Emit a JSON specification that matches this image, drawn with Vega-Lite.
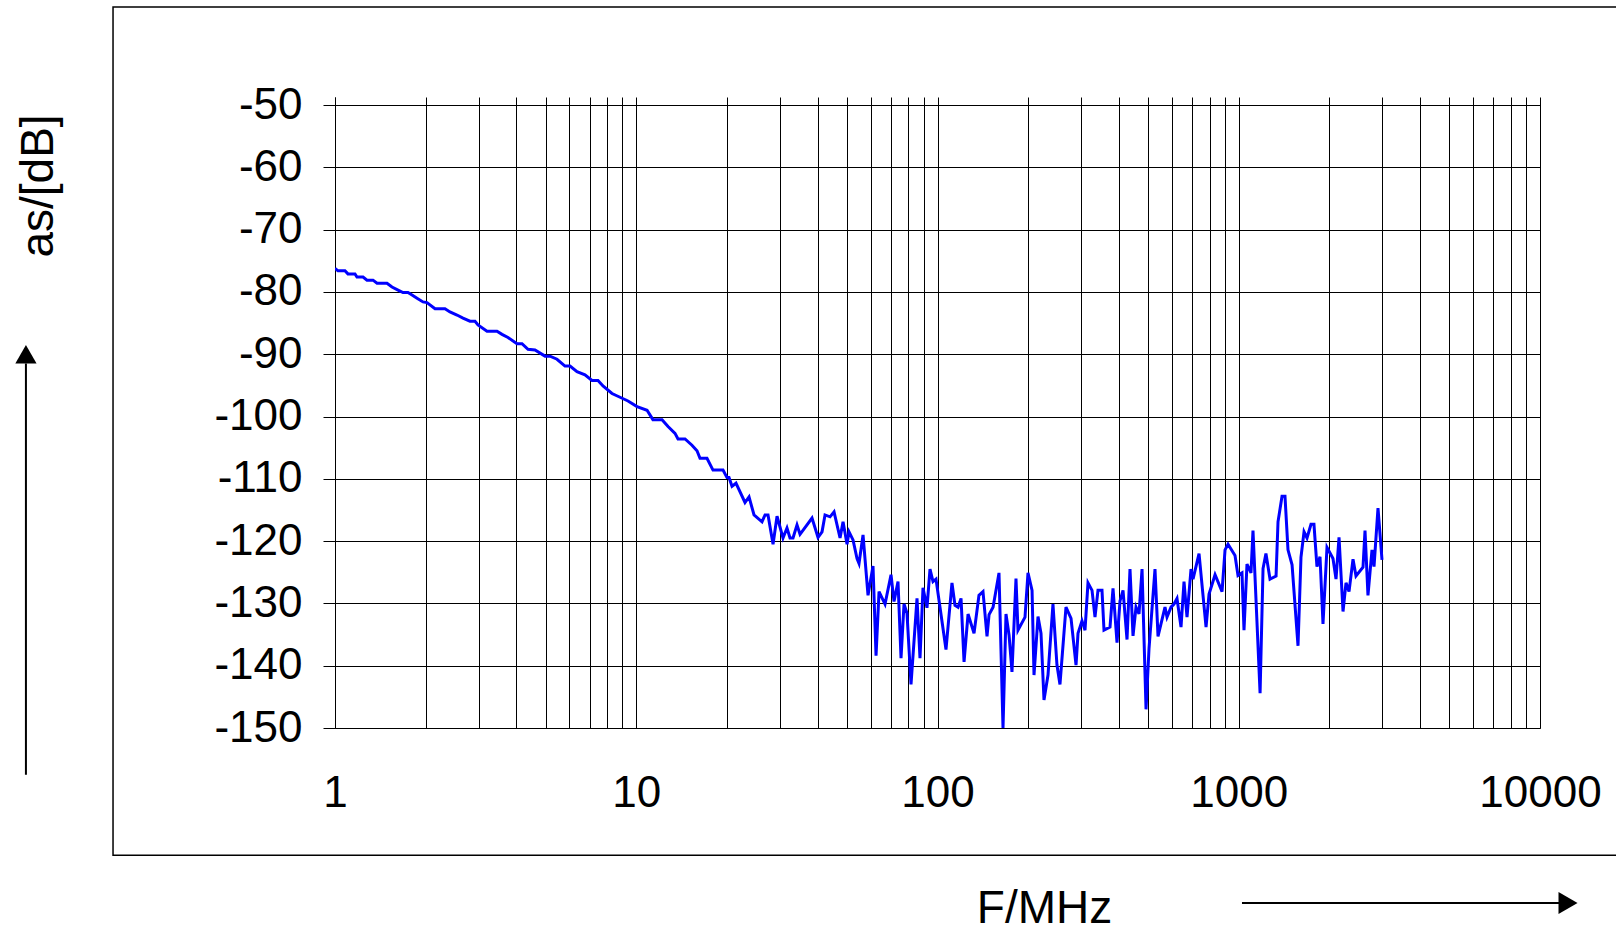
{
  "$schema": "https://vega.github.io/schema/vega-lite/v6.json",
  "width": 1205,
  "height": 631,
  "autosize": "none",
  "padding": {"left": 335, "top": 97, "right": 76, "bottom": 205},
  "background": "white",
  "config": {
    "view": {"stroke": null},
    "font": "Liberation Sans"
  },
  "layer": [
    {
      "data": {"name": "spectrum", "values": [
        {"F": 1.000, "dB": -76.2}, {"F": 1.023, "dB": -76.6}, {"F": 1.079, "dB": -76.6}, {"F": 1.104, "dB": -77.1},
        {"F": 1.165, "dB": -77.1}, {"F": 1.183, "dB": -77.6}, {"F": 1.239, "dB": -77.6}, {"F": 1.277, "dB": -78.1},
        {"F": 1.337, "dB": -78.1}, {"F": 1.379, "dB": -78.6}, {"F": 1.488, "dB": -78.6}, {"F": 1.546, "dB": -79.2},
        {"F": 1.619, "dB": -79.7}, {"F": 1.681, "dB": -80.1}, {"F": 1.747, "dB": -80.1}, {"F": 1.802, "dB": -80.5},
        {"F": 1.872, "dB": -81.0}, {"F": 1.959, "dB": -81.6}, {"F": 2.020, "dB": -81.7}, {"F": 2.148, "dB": -82.7},
        {"F": 2.318, "dB": -82.7}, {"F": 2.408, "dB": -83.2}, {"F": 2.541, "dB": -83.7}, {"F": 2.660, "dB": -84.2},
        {"F": 2.806, "dB": -84.7}, {"F": 2.916, "dB": -84.7}, {"F": 2.983, "dB": -85.3}, {"F": 3.196, "dB": -86.3},
        {"F": 3.450, "dB": -86.3}, {"F": 3.584, "dB": -86.8}, {"F": 3.752, "dB": -87.3}, {"F": 4.019, "dB": -88.3},
        {"F": 4.176, "dB": -88.3}, {"F": 4.372, "dB": -89.2}, {"F": 4.612, "dB": -89.3}, {"F": 4.980, "dB": -90.3},
        {"F": 5.173, "dB": -90.3}, {"F": 5.457, "dB": -90.8}, {"F": 5.800, "dB": -91.9}, {"F": 6.027, "dB": -91.9},
        {"F": 6.358, "dB": -92.8}, {"F": 6.758, "dB": -93.3}, {"F": 7.130, "dB": -94.2}, {"F": 7.464, "dB": -94.2},
        {"F": 7.755, "dB": -95.1}, {"F": 8.309, "dB": -96.3}, {"F": 8.835, "dB": -96.9}, {"F": 9.389, "dB": -97.5},
        {"F": 10.06, "dB": -98.4}, {"F": 10.86, "dB": -99.0}, {"F": 11.36, "dB": -100.5}, {"F": 12.18, "dB": -100.5},
        {"F": 12.75, "dB": -101.6}, {"F": 13.45, "dB": -102.7}, {"F": 13.76, "dB": -103.6}, {"F": 14.52, "dB": -103.6},
        {"F": 15.31, "dB": -104.6}, {"F": 15.91, "dB": -105.5}, {"F": 16.28, "dB": -106.7}, {"F": 17.17, "dB": -106.7},
        {"F": 17.98, "dB": -108.6}, {"F": 19.41, "dB": -108.6}, {"F": 20.01, "dB": -109.8}, {"F": 20.32, "dB": -109.8},
        {"F": 20.79, "dB": -111.2}, {"F": 21.43, "dB": -110.7}, {"F": 22.96, "dB": -113.8}, {"F": 23.68, "dB": -112.9},
        {"F": 24.60, "dB": -115.8}, {"F": 26.15, "dB": -116.9}, {"F": 26.76, "dB": -115.8}, {"F": 27.38, "dB": -115.8},
        {"F": 28.45, "dB": -120.5}, {"F": 29.33, "dB": -116.0}, {"F": 30.70, "dB": -119.5}, {"F": 31.65, "dB": -117.9},
        {"F": 32.39, "dB": -119.5}, {"F": 33.14, "dB": -119.5}, {"F": 34.17, "dB": -117.4}, {"F": 34.97, "dB": -118.9},
        {"F": 38.32, "dB": -116.3}, {"F": 40.12, "dB": -119.4}, {"F": 41.37, "dB": -118.5}, {"F": 42.33, "dB": -115.8},
        {"F": 43.98, "dB": -116.1}, {"F": 45.35, "dB": -115.3}, {"F": 47.48, "dB": -119.5}, {"F": 48.58, "dB": -116.9},
        {"F": 50.09, "dB": -120.5}, {"F": 50.86, "dB": -118.5}, {"F": 52.43, "dB": -119.8}, {"F": 54.06, "dB": -122.8},
        {"F": 54.89, "dB": -123.6}, {"F": 56.60, "dB": -119.0}, {"F": 58.80, "dB": -128.7}, {"F": 61.09, "dB": -124.0},
        {"F": 62.51, "dB": -138.4}, {"F": 63.96, "dB": -128.1}, {"F": 66.96, "dB": -130.1}, {"F": 70.10, "dB": -125.4},
        {"F": 71.72, "dB": -129.7}, {"F": 73.95, "dB": -126.5}, {"F": 75.67, "dB": -138.8}, {"F": 77.42, "dB": -130.1},
        {"F": 79.21, "dB": -131.6}, {"F": 81.67, "dB": -143.0}, {"F": 85.50, "dB": -129.2}, {"F": 87.48, "dB": -138.8},
        {"F": 89.51, "dB": -127.5}, {"F": 92.28, "dB": -130.7}, {"F": 94.43, "dB": -124.5}, {"F": 96.63, "dB": -126.5},
        {"F": 98.86, "dB": -126.1}, {"F": 106.7, "dB": -137.4}, {"F": 111.7, "dB": -126.7}, {"F": 114.3, "dB": -130.3},
        {"F": 117.0, "dB": -130.6}, {"F": 119.7, "dB": -129.2}, {"F": 122.5, "dB": -139.4}, {"F": 126.3, "dB": -131.7},
        {"F": 132.2, "dB": -134.8}, {"F": 137.3, "dB": -128.7}, {"F": 141.6, "dB": -128.1}, {"F": 146.0, "dB": -135.3},
        {"F": 148.3, "dB": -131.8}, {"F": 152.9, "dB": -130.6}, {"F": 160.0, "dB": -125.1}, {"F": 165.0, "dB": -150.0},
        {"F": 168.8, "dB": -131.7}, {"F": 172.8, "dB": -135.1}, {"F": 176.7, "dB": -141.0}, {"F": 182.2, "dB": -126.0},
        {"F": 185.0, "dB": -134.3}, {"F": 195.2, "dB": -132.2}, {"F": 199.7, "dB": -125.1}, {"F": 206.0, "dB": -127.9},
        {"F": 209.1, "dB": -141.5}, {"F": 215.6, "dB": -132.1}, {"F": 220.6, "dB": -134.8}, {"F": 225.7, "dB": -145.5},
        {"F": 232.7, "dB": -141.5}, {"F": 241.7, "dB": -130.1}, {"F": 249.2, "dB": -139.9}, {"F": 255.0, "dB": -143.0},
        {"F": 267.0, "dB": -130.6}, {"F": 277.5, "dB": -132.4}, {"F": 288.3, "dB": -139.9}, {"F": 292.7, "dB": -134.8},
        {"F": 301.8, "dB": -132.8}, {"F": 308.8, "dB": -134.3}, {"F": 315.9, "dB": -126.7}, {"F": 325.8, "dB": -127.9},
        {"F": 333.3, "dB": -132.2}, {"F": 341.0, "dB": -127.9}, {"F": 351.6, "dB": -127.9}, {"F": 357.0, "dB": -134.3},
        {"F": 373.8, "dB": -133.8}, {"F": 382.5, "dB": -127.6}, {"F": 394.4, "dB": -136.3}, {"F": 403.5, "dB": -129.6},
        {"F": 412.9, "dB": -127.9}, {"F": 425.7, "dB": -135.8}, {"F": 435.5, "dB": -124.5}, {"F": 445.7, "dB": -135.2},
        {"F": 456.0, "dB": -130.6}, {"F": 466.6, "dB": -131.7}, {"F": 477.5, "dB": -124.5}, {"F": 492.3, "dB": -147.0},
        {"F": 503.7, "dB": -137.2}, {"F": 527.2, "dB": -124.5}, {"F": 539.5, "dB": -135.3}, {"F": 569.1, "dB": -130.6},
        {"F": 577.9, "dB": -132.2}, {"F": 595.9, "dB": -130.6}, {"F": 609.7, "dB": -130.1}, {"F": 623.8, "dB": -129.2},
        {"F": 643.2, "dB": -133.8}, {"F": 658.1, "dB": -126.5}, {"F": 673.4, "dB": -132.2}, {"F": 694.3, "dB": -124.5},
        {"F": 705.0, "dB": -126.1}, {"F": 738.2, "dB": -122.0}, {"F": 778.8, "dB": -133.8}, {"F": 796.9, "dB": -128.5},
        {"F": 834.3, "dB": -125.4}, {"F": 880.1, "dB": -128.1}, {"F": 900.5, "dB": -121.4}, {"F": 921.3, "dB": -120.5},
        {"F": 971.9, "dB": -122.3}, {"F": 994.3, "dB": -125.5}, {"F": 1025, "dB": -125.1}, {"F": 1041, "dB": -134.3},
        {"F": 1065, "dB": -123.7}, {"F": 1098, "dB": -125.1}, {"F": 1115, "dB": -118.3}, {"F": 1177, "dB": -144.4},
        {"F": 1204, "dB": -124.4}, {"F": 1231, "dB": -122.0}, {"F": 1270, "dB": -126.1}, {"F": 1330, "dB": -125.6},
        {"F": 1350, "dB": -116.9}, {"F": 1392, "dB": -112.8}, {"F": 1424, "dB": -112.8}, {"F": 1457, "dB": -121.4},
        {"F": 1503, "dB": -123.8}, {"F": 1573, "dB": -136.8}, {"F": 1609, "dB": -122.6}, {"F": 1647, "dB": -118.5},
        {"F": 1685, "dB": -119.5}, {"F": 1737, "dB": -117.3}, {"F": 1777, "dB": -117.3}, {"F": 1818, "dB": -124.1},
        {"F": 1861, "dB": -122.5}, {"F": 1904, "dB": -133.3}, {"F": 1963, "dB": -121.0}, {"F": 2055, "dB": -122.8},
        {"F": 2103, "dB": -126.1}, {"F": 2152, "dB": -119.4}, {"F": 2219, "dB": -131.3}, {"F": 2270, "dB": -126.7},
        {"F": 2323, "dB": -128.1}, {"F": 2395, "dB": -122.9}, {"F": 2450, "dB": -125.6}, {"F": 2585, "dB": -124.2},
        {"F": 2625, "dB": -118.3}, {"F": 2685, "dB": -128.7}, {"F": 2769, "dB": -121.4}, {"F": 2812, "dB": -124.1},
        {"F": 2899, "dB": -114.7}, {"F": 2989, "dB": -123.0}
      ]},
      "mark": {"type": "line", "color": "#0000FF", "strokeWidth": 3, "clip": true},
      "encoding": {
        "x": {
          "field": "F", "type": "quantitative",
          "scale": {"type": "log", "domain": [1, 10000], "nice": false},
          "axis": {
            "values": [1,2,3,4,5,6,7,8,9,10,20,30,40,50,60,70,80,90,100,200,300,400,500,600,700,800,900,1000,2000,3000,4000,5000,6000,7000,8000,9000,10000],
            "labelExpr": "indexof([1,10,100,1000,10000], datum.value) >= 0 ? format(datum.value, 'd') : ''",
            "labelOverlap": false,
            "labelFlush": false,
            "labelFont": "Liberation Sans",
            "labelFontSize": 44,
            "labelColor": "#000",
            "labelPadding": 43,
            "ticks": false,
            "grid": true,
            "gridColor": "#000",
            "gridOpacity": 1,
            "gridWidth": 1,
            "domain": true,
            "domainColor": "#000",
            "domainWidth": 1,
            "title": "F/MHz",
            "titleFont": "Liberation Sans",
            "titleFontSize": 46,
            "titleFontWeight": "normal",
            "titleColor": "#000",
            "titleX": 709,
            "titleY": 194,
            "titleAlign": "center",
            "titleBaseline": "alphabetic"
          }
        },
        "y": {
          "field": "dB", "type": "quantitative",
          "scale": {"domain": [-150, -48.7], "nice": false, "zero": false},
          "axis": {
            "values": [-150,-140,-130,-120,-110,-100,-90,-80,-70,-60,-50],
            "labelExpr": "replace(datum.label, '\u2212', '-')",
            "labelFont": "Liberation Sans",
            "labelFontSize": 44,
            "labelColor": "#000",
            "labelPadding": 21,
            "labelFlush": false,
            "labelOverlap": false,
            "ticks": true,
            "tickSize": 12,
            "tickColor": "#000",
            "tickWidth": 1,
            "grid": true,
            "gridColor": "#000",
            "gridOpacity": 1,
            "gridWidth": 1,
            "domain": true,
            "domainColor": "#000",
            "domainWidth": 1,
            "title": "as/[dB]",
            "titleFont": "Liberation Sans",
            "titleFontSize": 46,
            "titleFontWeight": "normal",
            "titleColor": "#000",
            "titleAngle": -90,
            "titleX": -283,
            "titleY": 88.5,
            "titleAlign": "center",
            "titleBaseline": "alphabetic"
          }
        }
      }
    },
    {
      "data": {"values": [{}]},
      "mark": {"type": "rect", "filled": false, "stroke": "#000", "strokeWidth": 1.5, "clip": false},
      "encoding": {
        "x": {"datum": 0.1833, "type": "quantitative"},
        "x2": {"datum": 20000},
        "y": {"datum": -34.27, "type": "quantitative"},
        "y2": {"datum": -170.43}
      }
    },
    {
      "data": {"values": [{}]},
      "mark": {"type": "rule", "color": "#000", "strokeWidth": 2, "clip": false},
      "encoding": {
        "x": {"datum": 0.0942, "type": "quantitative"},
        "y": {"datum": -157.5, "type": "quantitative"},
        "y2": {"datum": -91.5}
      }
    },
    {
      "data": {"values": [{}]},
      "mark": {"type": "point", "shape": "triangle-up", "filled": true, "color": "#000", "opacity": 1, "size": 450, "clip": false},
      "encoding": {
        "x": {"datum": 0.0942, "type": "quantitative"},
        "y": {"datum": -90.0, "type": "quantitative"}
      }
    },
    {
      "data": {"values": [{}]},
      "mark": {"type": "rule", "color": "#000", "strokeWidth": 2, "clip": false},
      "encoding": {
        "x": {"datum": 1025, "type": "quantitative"},
        "x2": {"datum": 12000},
        "y": {"datum": -178.09, "type": "quantitative"}
      }
    },
    {
      "data": {"values": [{}]},
      "mark": {"type": "point", "shape": "triangle-right", "filled": true, "color": "#000", "opacity": 1, "size": 484, "clip": false},
      "encoding": {
        "x": {"datum": 12390, "type": "quantitative"},
        "y": {"datum": -178.09, "type": "quantitative"}
      }
    }
  ]
}
